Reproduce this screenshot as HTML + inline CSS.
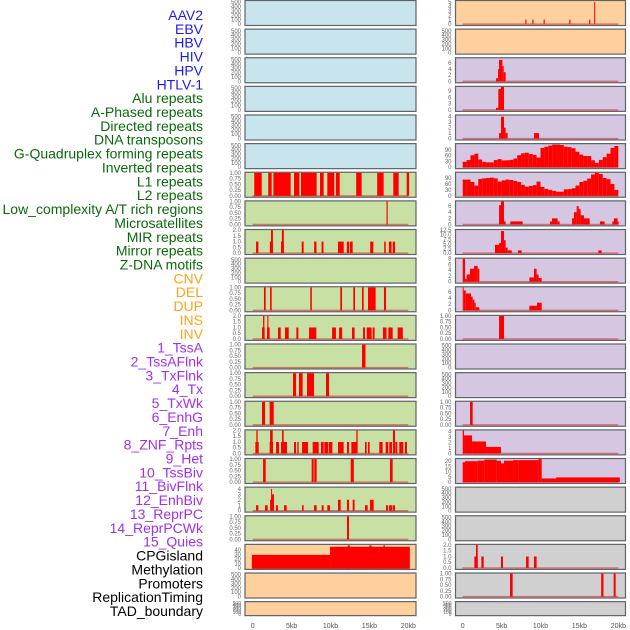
<!DOCTYPE html>
<html><head><meta charset="utf-8">
<style>
html,body{margin:0;padding:0;background:#fff;}
svg{display:block;font-family:"Liberation Sans",sans-serif;}
</style></head>
<body>
<svg id="chart" width="630" height="630" viewBox="0 0 630 630" xmlns="http://www.w3.org/2000/svg"></svg>
<script>
// ---- labels ----
const labelTexts = ["AAV2","EBV","HBV","HIV","HPV","HTLV-1","Alu repeats","A-Phased repeats","Directed repeats","DNA transposons","G-Quadruplex forming repeats","Inverted repeats","L1 repeats","L2 repeats","Low_complexity A/T rich regions","Microsatellites","MIR repeats","Mirror repeats","Z-DNA motifs","CNV","DEL","DUP","INS","INV","1_TssA","2_TssAFlnk","3_TxFlnk","4_Tx","5_TxWk","6_EnhG","7_Enh","8_ZNF_Rpts","9_Het","10_TssBiv","11_BivFlnk","12_EnhBiv","13_ReprPC","14_ReprPCWk","15_Quies","CPGisland","Methylation","Promoters","ReplicationTiming","TAD_boundary"];
const labelGroups = [6,13,5,15,5];
const groupColors = ["#1c1cf0","#0a6a0a","#ffa31a","#a030f0","#000000"];

// ---- x axis ----
const xTickValues = [0,5,10,15,20];
const xTickLabels = ["0","5kb","10kb","15kb","20kb"];

// ---- tick sets ----
const tEmpty = ["0","100","200","300","400","500"];
const tEmptyVals = [0,100,200,300,400,500];
const t1 = ["0.00","0.25","0.50","0.75","1.00"];
const t1Vals = [0,0.25,0.5,0.75,1];
const t2 = ["0.0","0.5","1.0","1.5","2.0"];
const t2Vals = [0,0.5,1,1.5,2];
const t4 = ["0","1","2","3","4"];
const t4Vals = [0,1,2,3,4];
const t5 = ["0","1","2","3","4","5"];
const t5Vals = [0,1,2,3,4,5];
const t6 = ["0","2","4","6"];
const t6Vals = [0,2,4,6];
const t8 = ["0","2","4","6","8"];
const t8Vals = [0,2,4,6,8];
const t9 = ["0","3","6","9"];
const t9Vals = [0,3,6,9];
const t90 = ["0","30","60","90"];
const t90Vals = [0,30,60,90];
const t12 = ["0.0","2.5","5.0","7.5","10.0","12.5"];
const t12Vals = [0,2.5,5,7.5,10,12.5];
const t20 = ["0","5","10","15","20"];
const t20Vals = [0,5,10,15,20];
const t40 = ["0","10","20","30","40"];
const t40Vals = [0,10,20,30,40];

// ---- column 1 bar data [startKb, endKb, value] ----
const c1_L1 = [[0.2,1.16,1],[2.0,2.44,1],[2.66,4.88,1],[5.31,6.0,1],[6.21,8.22,1],[8.65,9.12,1],[9.59,10.49,1],[10.7,11.18,1],[13.3,14.0,1],[16.0,16.83,1],[18.07,18.76,1],[19.79,20.1,1]];
const c1_Low = [[17.2,17.35,1]];
const c1_MIR = [[0.43,0.73,1],[2.2,2.6,1],[2.35,2.6,2],[3.64,4.0,1],[3.75,4.0,2],[6.3,6.55,1],[7.9,8.2,1],[8.85,9.1,1],[10.96,11.7,1],[12.1,12.4,1],[12.5,12.85,1],[15.1,15.5,1],[16.9,17.1,1],[17.5,17.85,1],[18.0,18.3,1]];
const c1_CNV = [[1.45,1.67,1],[2.23,2.44,1],[7.4,7.6,1],[11.26,11.48,1],[12.93,13.15,1],[14.05,14.26,1],[14.82,15.8,1],[16.87,17.13,1]];
const c1_INS = [[1.2,1.54,1],[1.33,1.5,2],[1.84,2.18,1],[1.88,2.02,2],[3.25,3.6,1],[4.15,4.63,1],[5.61,5.87,1],[7.24,8.18,1],[10.2,10.7,1],[11.1,11.5,1],[12.76,13.1,1],[14.18,14.43,1],[14.65,15.29,1],[15.42,15.67,1],[16.74,17.2,1],[17.43,17.99,1],[18.63,19.3,1]];
const c1_TssA = [[14.05,14.5,1]];
const c1_TssAFlnk = [[5.18,5.57,1],[5.95,6.42,1],[6.98,7.88,1],[9.42,9.81,1]];
const c1_TxFlnk = [[1.2,1.58,1],[2.18,2.7,1]];
const c1_Tx = [[0.34,0.77,1],[0.47,0.64,2],[2.18,2.61,1],[2.23,2.57,2],[3.0,3.38,1],[3.64,4.41,1],[3.77,3.98,2],[5.31,5.57,1],[5.74,5.91,1],[6.34,7.11,1],[7.71,8.48,1],[8.78,9.12,1],[9.21,9.72,1],[9.81,10.24,1],[10.96,11.69,1],[12.12,12.38,1],[12.68,13.45,1],[13.32,13.49,2],[14.43,14.65,1],[14.82,15.03,1],[16.27,16.7,1],[17.09,17.43,1],[17.56,17.9,1],[18.03,18.29,2],[18.33,18.59,1],[18.84,19.36,1],[19.57,19.83,1]];
const c1_TxWk = [[1.33,1.67,1],[7.58,7.84,1],[7.92,8.22,1],[12.6,13.0,1],[17.64,17.99,1]];
const c1_EnhG = [[0.43,0.73,1],[1.58,1.93,1],[2.23,2.57,2],[2.36,2.48,4],[2.48,2.74,3],[3.0,3.25,1],[4.03,4.37,1],[6.34,6.55,1],[7.88,8.22,1],[8.87,9.12,1],[9.59,9.94,1],[10.96,11.31,2],[12.12,12.38,2],[12.85,13.1,2],[14.43,14.78,1],[15.07,15.55,2],[17.13,17.39,1],[17.52,17.9,1],[17.99,18.29,1]];
const c1_Enh = [[12.12,12.38,1]];
const c1_CPG = [[-0.1,9.94,29],[9.94,20.2,47],[12.2,12.5,50],[15.0,15.3,50],[16.8,17.0,50]];

// ---- column 2 bar data ----
const c2_AAV2 = [[8.05,8.2,1],[8.95,9.1,1],[10.4,10.55,1],[13.7,13.85,1],[16.25,16.4,1],[16.9,17.02,5]];
const c2_Hiv = [[4.28,4.54,1],[4.54,4.67,4],[4.67,5.1,7],[5.1,5.27,5],[5.27,5.52,3]];
const c2_Hpv = [[4.28,4.58,1],[4.58,4.92,10],[4.92,5.31,11]];
const c2_Htlv = [[4.67,4.92,1],[4.92,5.31,4],[5.31,5.52,2],[5.52,5.78,1],[9.16,9.81,1]];
const c2_GQuadBins = [28,37,62,70,40,28,25,25,37,42,35,36,38,45,62,72,75,68,64,50,100,106,112,117,117,115,106,104,98,80,65,58,58,36,22,38,52,70,100,110];
const c2_InvBins = [82,82,70,52,85,88,90,92,88,72,78,82,80,75,70,55,46,50,54,72,45,35,30,25,21,21,33,34,38,52,70,76,87,108,116,110,90,84,60,30];
const c2_L2 = [[4.67,4.92,6.3],[4.92,5.31,7.5],[5.31,5.52,1],[6.12,7.71,1],[11.22,11.48,1],[11.48,12.2,2],[12.2,12.46,1],[14.05,14.3,2],[14.3,14.65,4],[14.65,14.9,6],[14.9,15.16,5],[15.16,15.59,3],[15.59,16.32,2],[17.64,18.24,1],[19.23,19.44,1],[19.44,19.91,2],[19.91,20.04,1]];
const c2_Micro = [[4.15,4.67,4.5],[4.67,4.92,5.5],[4.92,5.31,12],[5.31,5.52,7],[5.52,5.78,3],[5.78,6.3,1.5],[7.1,7.58,1.5],[17.43,17.86,1.5]];
const c2_MIR = [[0,0.3,8],[0.3,0.51,1],[0.51,0.94,2.5],[0.94,1.46,4.5],[1.46,1.93,5.5],[1.93,2.14,4.5],[8.57,9.16,1.5],[9.16,9.5,4.5],[9.5,9.76,2.5],[9.76,10.15,1.3]];
const c2_Mirror = [[0,0.13,7.5],[0.13,0.39,6.5],[0.39,1.07,5.5],[1.07,1.28,4.5],[1.28,1.5,3.5],[1.5,1.67,2.5],[1.67,2.14,1],[8.57,9.55,1.5],[9.55,10.15,2.5]];
const c2_ZDNA = [[4.67,5.31,1]];
const c2_INS = [[0.94,1.28,1]];
const c2_INV = [[0,0.17,4.2],[0.17,1.2,3.3],[1.2,3.0,2.2],[3.0,4.92,1.2]];
const c2_TssA = [[0,0.3,19],[0.3,1.88,20],[1.88,2.78,20.5],[2.78,4.37,21.5],[4.37,4.92,20.5],[4.92,5.31,18],[5.31,6.47,20.5],[6.47,7.15,21],[7.15,9.72,21],[9.72,10.15,22],[10.15,12.0,3.5],[12.0,20.2,4.5]];
const c2_Reg1 = [[1.5,1.93,1],[1.71,1.93,2],[2.4,2.7,1],[4.92,5.18,1],[8.14,8.48,1],[9.16,9.5,1]];
const c2_Reg2 = [[6.08,6.42,1],[17.8,18.1,1],[19.4,19.66,1]];

// ---- layout ----
const svg = document.getElementById('chart');
const NS = 'http://www.w3.org/2000/svg';
const COLS = [{left:245,right:416,x0:252.7},{left:455.5,right:625.5,x0:462.7}];
const KB = 7.78;
const PITCH = 28.625;
const BG = {blue:"#c8e4ec",green:"#c8e0a4",orange:"#fdd09e",purple:"#d5c6e2",grey:"#d0d0d0"};

function mk(tag, attrs, parent){
  const e = document.createElementNS(NS, tag);
  for (const k in attrs) e.setAttribute(k, attrs[k]);
  (parent||svg).appendChild(e);
  return e;
}

// labels
let li = 0;
labelGroups.forEach((n, g) => {
  for (let k = 0; k < n; k++) {
    const t = mk('text', {x:203, y:(20 + li*13.86).toFixed(2), 'text-anchor':'end', 'font-size':'14', fill:groupColors[g]});
    t.textContent = labelTexts[li];
    
    
    li++;
  }
});

function xScale(col, kb){ return COLS[col].x0 + kb*KB; }

function panel(col, row, bg, ymax, tickLabels, tickVals, bars, opts){
  opts = opts || {};
  const c = COLS[col];
  const top = row*PITCH + 0.5;
  const h = row === 21 ? 14 : 25;
  const bottom = top + h;
  const yScale = v => (bottom - 1.4) - v/ymax*(h - 2);
  const g = mk('g', {});
  
  
  const r = mk('rect', {x:c.left, y:top, width:c.right-c.left, height:h, fill:bg, stroke:'#5f6368', 'stroke-width':1.2}, g);
  
  
  // ticks
  tickLabels.forEach((lab, i) => {
    const t = mk('text', {x:c.left-4, y:(yScale(tickVals[i]) + 2).toFixed(2), 'text-anchor':'end', 'font-size': row===21 ? '5' : '6', fill:'#666'}, g);
    t.textContent = lab;
    
    
  });
  if (bars) {
    const bl = mk('line', {x1:xScale(col,0), x2:xScale(col,20), y1:yScale(0), y2:yScale(0), stroke:'rgba(205,40,40,0.55)', 'stroke-width':1.5}, g);
    
    
    bars.forEach(b => {
      const x1 = xScale(col, b[0]);
      let w = xScale(col, b[1]) - x1;
      if (w < 1) w = 1;
      const y1 = yScale(b[2]);
      const yb = opts.toBottom ? bottom - 0.6 : yScale(0);
      const rr = mk('rect', {x:x1.toFixed(2), y:y1.toFixed(2), width:w.toFixed(2), height:Math.max(0, yb-y1).toFixed(2), fill:'#ff0000'}, g);
      
      
    });
  }
}

function binsToBars(bins, width){
  return bins.map((v, i) => [i*width, (i+1)*width, v]);
}

// column 1
const col1Bg = ['blue','blue','blue','blue','blue','blue','green','green','green','green','green','green','green','green','green','green','green','green','green','orange','orange','orange'];
const col1Bars = {6:[c1_L1,1,t1,t1Vals],7:[c1_Low,1,t1,t1Vals],8:[c1_MIR,2,t2,t2Vals],10:[c1_CNV,1,t1,t1Vals],11:[c1_INS,2,t2,t2Vals],12:[c1_TssA,1,t1,t1Vals],13:[c1_TssAFlnk,1,t1,t1Vals],14:[c1_TxFlnk,1,t1,t1Vals],15:[c1_Tx,2,t2,t2Vals],16:[c1_TxWk,1,t1,t1Vals],17:[c1_EnhG,4.2,t4,t4Vals],18:[c1_Enh,1,t1,t1Vals],19:[c1_CPG,51,t40,t40Vals]};
for (let r = 0; r < 22; r++) {
  const d = col1Bars[r];
  if (d) panel(0, r, BG[col1Bg[r]], d[1], d[2], d[3], d[0], {toBottom: r===19});
  else panel(0, r, BG[col1Bg[r]], 525, tEmpty, tEmptyVals, null);
}

// column 2
const col2Bg = ['orange','orange','purple','purple','purple','purple','purple','purple','purple','purple','purple','purple','purple','purple','purple','purple','purple','grey','grey','grey','grey','grey'];
const col2Bars = {0:[c2_AAV2,5.2,t5,t5Vals],2:[c2_Hiv,7.5,t6,t6Vals],3:[c2_Hpv,11,t9,t9Vals],4:[c2_Htlv,4.2,t4,t4Vals],5:[binsToBars(c2_GQuadBins,0.5),119,t90,t90Vals],6:[binsToBars(c2_InvBins,0.5),116,t90,t90Vals],7:[c2_L2,7.5,t6,t6Vals],8:[c2_Micro,12.5,t12,t12Vals],9:[c2_MIR,8,t8,t8Vals],10:[c2_Mirror,7.5,t6,t6Vals],11:[c2_ZDNA,1,t1,t1Vals],14:[c2_INS,1,t1,t1Vals],15:[c2_INV,4.2,t4,t4Vals],16:[c2_TssA,22,t20,t20Vals],19:[c2_Reg1,2,t2,t2Vals],20:[c2_Reg2,1,t1,t1Vals]};
for (let r = 0; r < 22; r++) {
  const d = col2Bars[r];
  if (d) panel(1, r, BG[col2Bg[r]], d[1], d[2], d[3], d[0]);
  else panel(1, r, BG[col2Bg[r]], 525, tEmpty, tEmptyVals, null);
}

// x axes
[0,1].forEach(col => {
  xTickValues.forEach((v, i) => {
    const t = mk('text', {x:xScale(col, v).toFixed(2), y:628, 'text-anchor':'middle', 'font-size':'7', fill:'#555'});
    t.textContent = xTickLabels[i];
    
    
  });
});
</script>
</body></html>
